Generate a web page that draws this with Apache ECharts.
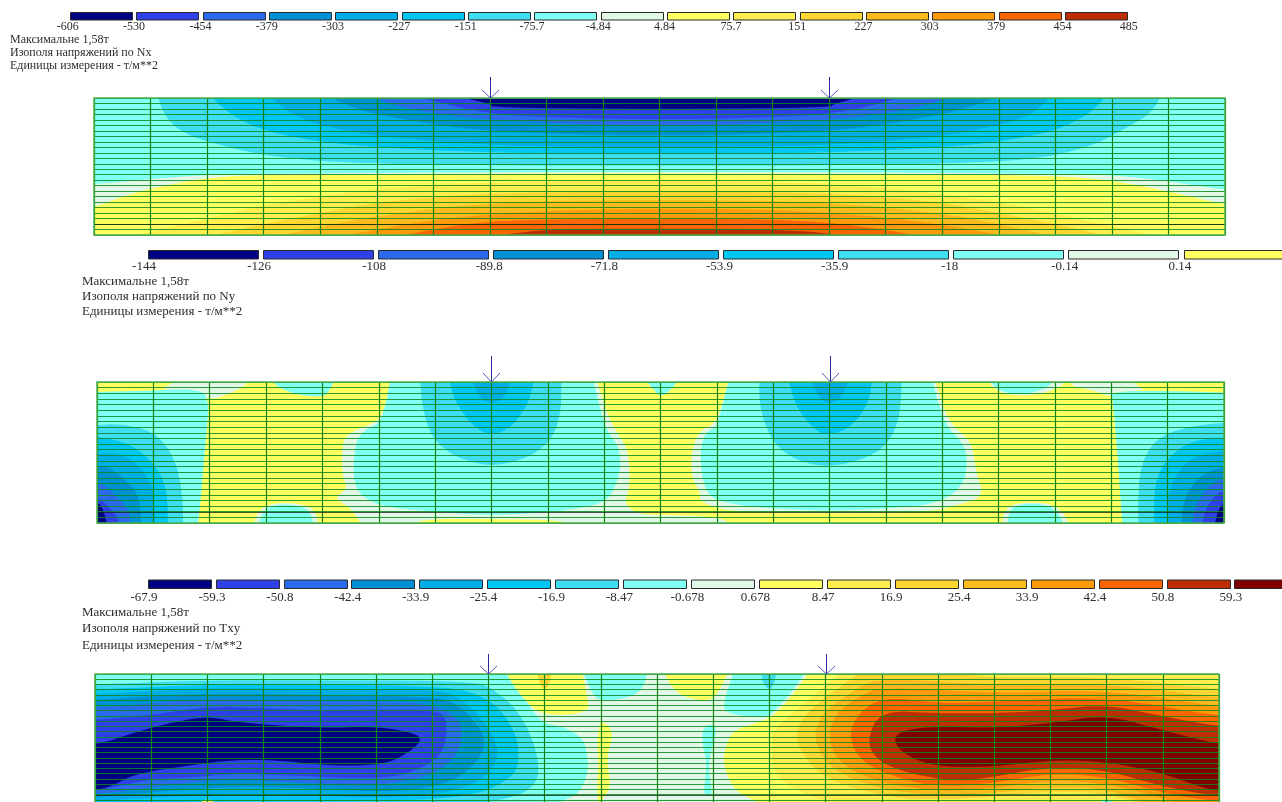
<!DOCTYPE html>
<html><head><meta charset="utf-8"><style>html,body{margin:0;padding:0;background:#fff;overflow:hidden}#c{width:1282px;height:802px}</style>
<script src="https://cdn.jsdelivr.net/npm/echarts@6/dist/echarts.min.js"></script></head><body><div id="c"></div>
<script>
// colour scale, index = band number used below
const palette = [null,'#000082','#3040E8','#2B6BEB','#0091D4','#00ADE6','#00C6F4','#3FDDF2','#80FFF4','#E2F8E6','#FFFF60','#FFEE4D','#FCD732','#FBBB1C','#FC9A0A','#FA6500','#BE2E05','#800000'];

const nxLabels = ['-606','-530','-454','-379','-303','-227','-151','-75.7','-4.84','4.84','75.7','151','227','303','379','454','485'];
const nyLabels = ['-144','-126','-108','-89.8','-71.8','-53.9','-35.9','-18','-0.14','0.14'];
const txyLabels = ['-67.9','-59.3','-50.8','-42.4','-33.9','-25.4','-16.9','-8.47','-0.678','0.678','8.47','16.9','25.4','33.9','42.4','50.8','59.3'];
const nxSwatches = [1,2,3,4,5,6,7,8,9,10,11,12,13,14,15,16];
const nySwatches = [1,2,3,4,5,6,7,8,9,10];
const txySwatches = [1,2,3,4,5,6,7,8,9,10,11,12,13,14,15,16,17];

const nxCaption = ['Максимальне 1,58т','Изополя напряжений по Nx','Единицы измерения - т/м**2'];
const nyCaption = ['Максимальне 1,58т','Изополя напряжений по Ny','Единицы измерения - т/м**2'];
const txyCaption = ['Максимальне 1,58т','Изополя напряжений по Txy','Единицы измерения - т/м**2'];

const loadNodes = [7,13];   // mesh columns carrying a load
const darkRows = [23];

// stress bands: [band, outline in mesh units (column, row)], painted in order
const nxFields = [
 [8,[[-1,-1],[21,-1],[21,26],[-1,26]]],
 [7,[[1.11,-1],[1.22,2.8],[1.5,6],[2,8],[3,10.5],[4,11.5],[5,12],[7,12.3],[10,12.3],[13,12.3],[15,12],[16.6,11.3],[17.6,9],[18.2,5.8],[18.7,2.8],[18.9,-1]]],
 [6,[[2,-1],[2.4,3],[3,6],[4,8],[5,9],[7,10],[10,10.2],[13,10],[15,9],[16,8],[17,6],[17.6,3],[17.96,-1]]],
 [5,[[3,-1],[3.5,3],[4,5],[5,7],[7,8.7],[10,9],[13,8.7],[15,7],[16,5],[16.6,3],[17,-1]]],
 [4,[[4,-1],[4.6,2],[5.5,4],[7,6.2],[10,7],[13,6.2],[14.5,4],[15.4,2],[16.2,-1]]],
 [3,[[4.7,-1],[5.5,2],[7,4.2],[10,5.2],[13,4.2],[14.5,2],[15.4,-1]]],
 [2,[[5.5,-1],[6.5,2],[7.5,3.4],[10,4],[12.5,3.4],[13.6,2],[14.5,-1]]],
 [1,[[6.1,-1],[7,1],[7.05,1.8],[10,2],[13,1.8],[13.1,1],[13.85,-1]]],
 [9,[[-1,15.8],[0,15.8],[1,14.8],[2,14],[3,13.8],[10,13.4],[17,13.8],[18,14],[19,15.2],[20,16.8],[21,17.5],[21,26],[-1,26]]],
 [10,[[-1,21],[0,20],[0.5,18],[1,16.5],[2,14.5],[3,14],[5,13.9],[10,13.7],[15,13.9],[17,14.2],[18,15],[19,17],[20,19.5],[21,20.5],[21,26],[-1,26]]],
 [11,[[0.2,26],[1,24.5],[2,22],[3,19.5],[4,18],[5,16.5],[7,15.3],[10,15],[13,15.5],[15,17.5],[16,19],[17,21],[18,23.5],[19.2,26]]],
 [12,[[1.7,26],[3,23],[4,21],[5,19],[7,17.3],[10,17],[13,17.3],[15,19],[16,21],[17,23],[18.3,26]]],
 [13,[[2.9,26],[4,23.5],[5,21.5],[7,19],[10,18.5],[13,19],[15,21],[16,23],[17.3,26]]],
 [14,[[4,26],[5.5,23],[7,21],[10,20],[13,20.7],[15,23],[16.5,26]]],
 [15,[[5,26],[6.5,23],[7.5,22.2],[10,22],[12.5,22.2],[14,24],[15,26]]],
 [16,[[6.5,26],[7.5,24.6],[8,24],[10,23.8],[12,24],[13,24.6],[13.6,26]]]
];

const nyFields = [
 [10,[[-1,-1],[21,-1],[21,26],[-1,26]]],
 [9,[[1,1.4],[1.7,-1],[2.75,-1],[2.6,1],[2.1,3],[2,2.8]]],
 [8,[[-1,1.8],[0,1.8],[1,1.5],[1.7,1.2],[2,2.4],[1.93,10.4],[1.83,22],[1.78,26],[-1,26]]],
 [7,[[-1,7.7],[0,7.7],[0.37,7.4],[1,8.6],[1.38,13.3],[1.52,19.8],[1.53,26],[-1,26]]],
 [6,[[-1,9.8],[0,9.8],[0.23,10],[0.7,11.5],[1.11,15.7],[1.25,19.8],[1.26,26],[-1,26]]],
 [5,[[-1,12.7],[0,12.7],[0.5,12.7],[1,17.4],[1.03,26],[-1,26]]],
 [4,[[-1,15],[0,15],[0.23,15],[0.7,19.2],[0.77,22],[0.79,26],[-1,26]]],
 [3,[[-1,17.2],[0,17.2],[0.37,20.4],[0.57,22.8],[0.6,26],[-1,26]]],
 [2,[[-1,20.4],[0,20.4],[0.16,21.6],[0.37,24],[0.4,26],[-1,26]]],
 [1,[[-1,21.3],[0,21.3],[0.1,22.2],[0.2,26],[-1,26]]],
 [9,[[17.2,-1],[18.3,-1],[18.5,1],[18.6,1.5],[18,1.8],[18,2.7],[17.7,1.5],[17.3,0.8]]],
 [8,[[21,1.9],[20,1.9],[18.65,1.5],[18,1.8],[18.02,2.7],[18.1,11.5],[18.2,26],[21,26]]],
 [7,[[21,7.1],[20,7.1],[19.15,8.3],[18.7,10.9],[18.48,16.3],[18.48,26],[21,26]]],
 [6,[[21,9.8],[20,9.8],[19.43,10.4],[19,13.3],[18.76,18],[18.76,26],[21,26]]],
 [5,[[21,12.1],[20,12.1],[19.43,13.3],[19.15,16.3],[19,20.4],[18.99,26],[21,26]]],
 [4,[[21,14.8],[20,14.8],[19.57,16.6],[19.29,20.4],[19.23,26],[21,26]]],
 [3,[[21,16.9],[20,16.9],[19.71,18.6],[19.47,22.2],[19.43,26],[21,26]]],
 [2,[[21,18.9],[20,18.9],[19.78,20.7],[19.64,23.4],[19.62,26],[21,26]]],
 [1,[[21,21.3],[20,21.3],[19.89,22.8],[19.82,26],[21,26]]],
 [9,[[5.22,-1],[5.1,5],[4.95,7.2],[4.55,8.6],[4.35,10.4],[4.35,16.5],[4.45,19],[4.2,20.5],[4.5,22.3],[4.75,26],[5.6,26],[5.7,24.3],[7,24.3],[8.3,24.5],[8.4,26],[11.35,26],[11.1,24],[10.2,23.6],[9.7,23.6],[9.35,22],[9.45,18.6],[9.45,15],[9.4,11.5],[9.2,8.6],[9.05,5.6],[8.85,-1]]],
 [8,[[5.22,-1],[5.1,5],[5,7.4],[4.78,8.3],[4.58,10.4],[4.54,17.5],[4.7,20.4],[5.1,22.2],[6,23],[7,23.7],[8.17,23],[9,21.6],[9.2,18.6],[9.3,15],[9.26,11.5],[9.05,8.6],[8.95,5.6],[8.79,-1]]],
 [7,[[5.73,-1],[5.77,4.4],[5.93,9.8],[6.34,13.3],[7,15.1],[7.7,13.3],[8.1,9.8],[8.24,5],[8.24,-1]]],
 [6,[[6.24,-1],[6.34,3.3],[6.68,8],[7,9.5],[7.36,8],[7.66,3.8],[7.77,-1]]],
 [5,[[6.65,-1],[6.75,2.4],[7,4.1],[7.26,2.4],[7.36,-1]]],
 [9,[[11.23,-1],[11,7.4],[10.7,8.5],[10.55,12],[10.55,17],[10.7,19.5],[10.7,21],[10.9,22],[11.3,23],[13,23.3],[14.8,23],[15.2,22],[15.75,20.4],[15.6,16],[15.55,12],[15.45,10],[15.1,7],[14.85,-1]]],
 [8,[[11.23,-1],[11.06,5.6],[11,8],[10.8,8.9],[10.7,12.1],[10.74,17.5],[10.88,20.4],[11.2,21.6],[12,22.5],[13,22.8],[14,22.5],[14.93,21.6],[15.38,18.3],[15.45,13.9],[15.38,10.9],[15.03,7.4],[14.8,-1]]],
 [7,[[11.75,-1],[11.76,5],[12,10.9],[12.4,13.9],[13,15.2],[13.73,13.3],[14.08,10.4],[14.26,5.6],[14.28,-1]]],
 [6,[[12.25,-1],[12.4,4.4],[12.74,8.6],[13,9.5],[13.38,8],[13.7,3.8],[13.76,-1]]],
 [5,[[12.66,-1],[12.78,2.4],[13,4.1],[13.24,2.4],[13.36,-1]]],
 [8,[[3.05,-1],[3.2,1],[3.6,2.4],[4,2.6],[4.1,2],[4.25,-1]]],
 [8,[[9.67,-1],[9.85,1],[10,2.7],[10.2,1.3],[10.35,-1]]],
 [9,[[15.75,-1],[16,2.1],[16.6,2.5],[17.1,1],[17.25,-1]]],
 [8,[[15.8,-1],[16,1.8],[16.5,2.2],[16.9,0.9],[17,-1]]],
 [9,[[2.75,26],[2.92,21.4],[3.85,21.6],[3.95,26]]],
 [8,[[2.84,26],[3,21.6],[3.76,21.9],[3.86,26]]],
 [9,[[16.05,26],[16.12,21.4],[17.05,21.4],[17.3,26]]],
 [8,[[16.15,26],[16.2,21.6],[16.97,21.6],[17.2,26]]]
];

const txyFields = [
 [9,[[-1,-1],[21,-1],[21,26],[-1,26]]],
 [8,[[-1,-1],[7.3,-1],[7.6,4],[7.95,9.4],[8.33,10],[8.69,12.2],[8.77,16],[8.77,18.6],[8.69,21.1],[8.57,23],[8.27,24.4],[8,26],[-1,26]]],
 [10,[[7.26,-1],[7.56,4],[7.95,8.1],[8.81,7.4],[8.75,4],[8.66,-1]]],
 [12,[[7.86,-1],[7.9,1.5],[8,3.4],[8.1,1.5],[8.14,-1]]],
 [8,[[8.66,-1],[8.86,4],[9,5.2],[9.52,4.5],[9.76,2.7],[9.84,-1]]],
 [10,[[9,9.1],[9.13,9.7],[9.22,11.6],[9.13,14.9],[9.12,17.3],[9.18,21.7],[9.02,24],[8.96,26],[8.93,21],[8.96,17],[8.93,13],[8.98,9.5]]],
 [10,[[10.1,-1],[10.23,2.1],[10.46,4.4],[10.94,5.3],[11.12,3],[11.3,-1]]],
 [8,[[11.39,-1],[11.18,5.3],[11.21,7.6],[11.95,8.4],[12.07,7.2],[12.31,4.6],[12.69,-1]]],
 [7,[[11.85,-1],[11.87,1.5],[12,3.2],[12.1,1.5],[12.13,-1]]],
 [8,[[10.8,11],[10.89,9.7],[11.03,9.7],[11.05,11.6],[10.93,16],[10.92,19],[11,23.4],[10.82,23],[10.86,20],[10.88,16.8],[10.82,14]]],
 [7,[[-1,2],[0,2],[2,1.2],[4,1.2],[6,1.3],[6.8,1.7],[7,2.3],[7.44,5.9],[7.74,11],[7.9,16.8],[7.87,20.6],[7.6,23],[7,24.5],[6,26],[-1,26]]],
 [6,[[-1,3],[0,3],[2,2],[4,2],[6.3,2.4],[6.85,4],[7.2,6.5],[7.5,11.6],[7.54,15.4],[7.5,18.7],[7.2,21.1],[6.85,22.7],[6,24],[4,24.3],[2,24.2],[0,25],[-1,25]]],
 [5,[[-1,4],[0,4],[1,3.2],[2,2.7],[4,2.8],[6,3],[6.4,3.9],[6.85,7.8],[7.2,14.1],[7.08,18],[6.85,20.5],[6.2,22.9],[5,23.6],[4,23.2],[2.5,23],[1,23.5],[0,24.3],[-1,24.3]]],
 [4,[[-1,5],[0,5],[1,4.2],[2,3.7],[4,3.9],[6,4.4],[6.3,5],[6.6,7],[7,12.6],[6.74,17.8],[6.19,21.3],[5.2,22.6],[3.47,21.6],[2.1,21.6],[0.74,22.8],[0,23.5],[-1,23.5]]],
 [3,[[-1,6.5],[0,6.5],[1,5.6],[2,4.7],[3,5],[5,5.3],[5.99,5.6],[6.5,8.5],[6.53,12.6],[6.39,16.4],[5.85,19.9],[4.83,21.5],[3.47,20.6],[2.44,20],[1.42,21],[0.4,22.5],[0,22.9],[-1,22.9]]],
 [2,[[-1,8.8],[0,8.8],[1,7.8],[2,6.2],[3,6.5],[4,7],[5,6.8],[5.99,6.8],[6.25,8],[6.26,12.6],[6.09,16.4],[5.5,19.4],[4.69,20],[3.47,19.3],[2.44,19],[1.76,19.7],[1,20],[0.3,21.7],[0,22.3],[-1,22.3]]],
 [1,[[-1,13.7],[0,13.7],[0.74,11],[1.42,9.1],[2,8.1],[2.5,9.1],[3.09,9.7],[4,10.3],[5.03,10],[5.71,11.3],[5.81,12.6],[5.64,14.5],[5.23,17],[4.69,17.5],[4,17.3],[3.19,16.4],[2.44,16.4],[1.76,17.3],[0.74,18.9],[0.27,21.5],[0,22.1],[-1,22.1]]],
 [11,[[1.85,26],[1.9,24.1],[2,23.9],[2.1,24.1],[2.2,26]]],
 [10,[[12.75,-1],[12.37,4.6],[12.05,8.1],[11.83,9.1],[11.35,10.7],[11.21,14.1],[11.18,16.8],[11.26,19.8],[11.42,22.5],[11.71,24],[12,26],[21,26],[21,-1]]],
 [11,[[13.37,-1],[13,2.1],[12.4,7.5],[12.07,10.7],[12.04,13.8],[12.07,18.9],[12.46,22.1],[13,24.4],[13.6,26],[21,26],[21,-1]]],
 [12,[[13.65,-1],[13.5,0.8],[13,4.3],[12.6,8.1],[12.43,12.6],[12.89,19.6],[14,23.4],[15,24],[16,23.4],[17,22.4],[18,22.7],[19,26],[21,26],[21,3.5],[20,3],[18,0.5],[16,0.8],[14.5,-1]]],
 [13,[[14,0.8],[13.6,2.4],[13,6.9],[12.89,8.8],[12.78,12.6],[13.1,18.3],[14,22.1],[15,23.2],[16,22.7],[17,21.5],[18,21.8],[19,26],[21,26],[21,5],[20,4.6],[18,1.8],[16,2.1]]],
 [14,[[14,2.4],[13.6,4.3],[13.17,7.5],[13.03,12.6],[13.3,17.6],[14,20.8],[15,22.4],[16,21.8],[17,20.2],[18,20.8],[19.3,24.5],[19.4,26],[21,26],[21,7],[20,6.2],[18,3],[16,3.7]]],
 [15,[[14,4.3],[13.52,8.1],[13.42,12.6],[13.66,17],[14.3,19.9],[15,21.5],[16,20.8],[17,18.9],[18,19.6],[19,22.7],[20,24.4],[21,25],[21,8.5],[20,8.1],[18,4.3],[16,5.3],[15,5.6]]],
 [16,[[13.98,6.9],[13.73,12.6],[13.9,16.4],[14.44,18.9],[15.35,20.5],[16,19.6],[17,17.7],[18,18.3],[19,21.5],[20,23.4],[21,24],[21,10.5],[20,10],[19,8.1],[18,5.8],[17,6.9],[16,7.5],[15,7.5]]],
 [17,[[14.19,12.6],[14.37,10.7],[15,10],[16,10.3],[17,9.4],[18,7.8],[19,10.7],[20,13.5],[21,14],[21,23],[20,22.4],[19.66,21.5],[19,18.9],[18,16.7],[17,16.4],[16,17.7],[15,17.7],[14.44,15.7]]],
 [8,[[17.8,26],[17.9,24.1],[18,23.9],[18.1,24.1],[18.2,26]]]
];

const serif = '"Liberation Serif","Times New Roman",serif';
const textColor = '#2e2e2e';
const meshV = '#0f820f', meshH = 'rgba(12,135,30,0.85)', frame = '#4caf50';

// corner rounding of a closed outline, for drawing only; vertices outside the mesh stay put
function rounded(outline, api){
  let out = outline.map(q=>{
    const c = api.coord(q);
    return {x:c[0],y:c[1],pin:q[0]<0||q[0]>20||q[1]<0||q[1]>25};
  });
  for(let k=0;k<2;k++){
    const next = [];
    out.forEach((p,i)=>{
      if(p.pin){next.push(p);return;}
      const a = out[(i+out.length-1)%out.length], b = out[(i+1)%out.length];
      next.push({x:p.x*0.75+a.x*0.25,y:p.y*0.75+a.y*0.25},{x:p.x*0.75+b.x*0.25,y:p.y*0.75+b.y*0.25});
    });
    out = next;
  }
  return out.map(p=>[p.x,p.y]);
}
function fieldSeries(fields, g){
  return {type:'custom', xAxisIndex:g, yAxisIndex:g, clip:true, silent:true, z:2,
    data: fields.map((f,i)=>[i]),
    renderItem(p, api){
      const f = fields[p.dataIndex];
      return {type:'polygon', shape:{points:rounded(f[1],api)}, style:{fill:palette[f[0]]}};
    }};
}
function frameSeries(g){
  return {type:'custom', xAxisIndex:g, yAxisIndex:g, silent:true, z:8,
    data:[[0]],
    renderItem(p, api){
      const a = api.coord([0,0]), b = api.coord([20,25]);
      const kids = darkRows.map(r=>{
        const y = Math.round(api.coord([0,r])[1])+0.5;
        return {type:'line', shape:{x1:a[0],y1:y,x2:b[0],y2:y}, style:{stroke:'rgba(20,30,20,0.75)',lineWidth:1}};
      });
      kids.push({type:'rect', shape:{x:a[0],y:a[1],width:b[0]-a[0],height:b[1]-a[1]}, style:{fill:'none',stroke:frame,lineWidth:1.5}});
      return {type:'group', children:kids};
    }};
}
function arrowSeries(g, shaft, head){
  return {type:'custom', xAxisIndex:g, yAxisIndex:g, silent:true, clip:false, z:9,
    data: loadNodes.map(n=>[n,0]),
    renderItem(p, api){
      const t = api.coord([api.value(0),0]);
      const x = Math.round(t[0])+0.5, y = t[1];
      const st = {stroke:'#2a2a9c',lineWidth:1,fill:'none'};
      return {type:'group', children:[
        {type:'line', shape:{x1:x,y1:y-shaft,x2:x,y2:y}, style:st},
        {type:'polyline', shape:{points:[[x-8.5,y-head],[x,y],[x+8.5,y-head]]}, style:{...st,stroke:'#5a5ab8'}}
      ]};
    }};
}
function legendSeries(swatches, g, off, w){
  return {type:'custom', xAxisIndex:g, yAxisIndex:g, silent:true, clip:false,
    data: swatches.map((b,i)=>[i,b]),
    renderItem(p, api){
      const i = api.value(0);
      const a = api.coord([i+off,0]), b = api.coord([i+off+w,1]);
      return {type:'rect', shape:{x:Math.round(a[0])+0.5,y:a[1]+0.5,width:Math.round(b[0]-a[0]),height:b[1]-a[1]},
        style:{fill:palette[api.value(1)],stroke:'#2a2a2a',lineWidth:1}};
    }};
}
function caption(lines,left,top,size,lh){
  return {text:lines.join('\n'),left,top,padding:0,textStyle:{fontFamily:serif,fontSize:size,lineHeight:lh,fontWeight:'normal',color:textColor}};
}
const hidden = {show:false};
function legendX(g,labels,max,size,margin){
  return {type:'value',gridIndex:g,min:0,max,interval:1,splitLine:hidden,axisLine:hidden,axisTick:hidden,
    axisLabel:{show:true,margin,fontFamily:serif,fontSize:size,color:textColor,hideOverlap:false,showMinLabel:true,showMaxLabel:true,
      formatter:v=>labels[v]===undefined?'':labels[v]}};
}
function legendY(g){return {type:'value',gridIndex:g,min:0,max:1,show:false,splitLine:hidden};}
function meshX(g){return {type:'value',gridIndex:g,min:0,max:20,interval:1,z:5,axisLine:hidden,axisTick:hidden,axisLabel:hidden,
  splitLine:{show:true,lineStyle:{color:meshV,width:1.2}}};}
function meshY(g,max){return {type:'value',gridIndex:g,min:0,max,interval:1,inverse:true,z:5,axisLine:hidden,axisTick:hidden,axisLabel:hidden,
  splitLine:{show:true,lineStyle:{color:meshH,width:1}}};}

const chart = echarts.init(document.getElementById('c'),null,{renderer:'canvas',width:1282,height:802});
chart.setOption({
  animation:false, backgroundColor:'#fff',
  title:[caption(nxCaption,10,33,12,13),caption(nyCaption,82,274,13,15),caption(txyCaption,82,604,13,16.5)],
  grid:[
    {left:67.8,top:12,width:1061,height:7.5},
    {left:94,top:98,width:1131,height:137},
    {left:144,top:250,right:0,height:8.5},
    {left:97,top:382,width:1127,height:141},
    {left:144,top:579.5,right:0,height:8.5},
    {left:95,top:674,width:1124,bottom:0}
  ],
  xAxis:[legendX(0,nxLabels,16,12,1),meshX(1),legendX(2,nyLabels,9.861,13,2),meshX(3),legendX(4,txyLabels,16.71,13,3),meshX(5)],
  yAxis:[legendY(0),meshY(1,25),legendY(2),meshY(3,25),legendY(4),meshY(5,24.4)],
  series:[
    legendSeries(nxSwatches,0,0.036,0.94),
    fieldSeries(nxFields,1),frameSeries(1),arrowSeries(1,21,8),
    legendSeries(nySwatches,2,0.032,0.953),
    fieldSeries(nyFields,3),frameSeries(3),arrowSeries(3,26,9),
    legendSeries(txySwatches,4,0.054,0.926),
    fieldSeries(txyFields,5),frameSeries(5),arrowSeries(5,20,8)
  ]
});
</script></body></html>
